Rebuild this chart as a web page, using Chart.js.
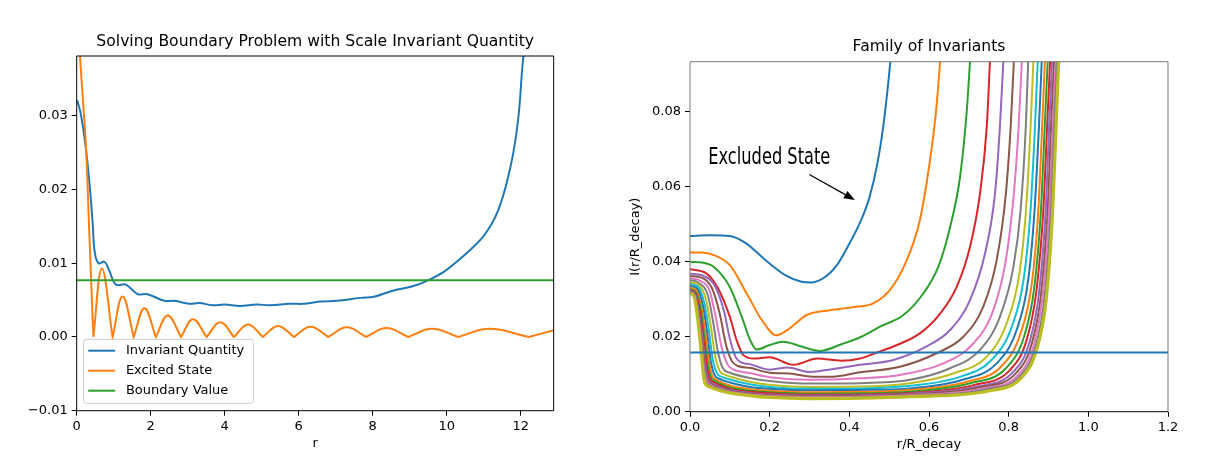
<!DOCTYPE html>
<html>
<head>
<meta charset="utf-8">
<script src="https://cdn.jsdelivr.net/npm/chart.js@4.4.1/dist/chart.umd.min.js"></script>
<style>
  body { margin: 0; background: #fff; }
  #wrap { position: relative; width: 1229px; height: 461px; }
  canvas { position: absolute; top: 0; }
  #left { left: 0; }
  #right { left: 614px; }
</style>
</head>
<body>
<div id="wrap">
  <canvas id="left" width="614" height="461"></canvas>
  <canvas id="right" width="615" height="461"></canvas>
</div>
<script>
const tab10 = ['#1f77b4', '#ff7f0e', '#2ca02c', '#d62728', '#9467bd',
               '#8c564b', '#e377c2', '#7f7f7f', '#bcbd22', '#17becf'];

// ---- left panel: r against quantity ----
const invariantQuantity = [
  [0, 0.0321], [0.03, 0.0318], [0.12, 0.0300], [0.25, 0.0255], [0.36, 0.0200], [0.43, 0.0155],
  [0.49, 0.0114], [0.59, 0.0100], [0.75, 0.0102], [0.88, 0.0090], [1.06, 0.0071], [1.33, 0.0071],
  [1.65, 0.0058], [1.91, 0.0058], [2.37, 0.0049], [2.64, 0.0049], [3.04, 0.0045], [3.31, 0.0046],
  [3.67, 0.0043], [4.0, 0.0044], [4.41, 0.0042], [4.86, 0.0044], [5.22, 0.0043], [5.76, 0.0045],
  [6.12, 0.0045], [6.58, 0.0048], [7.03, 0.0049], [7.66, 0.0053], [8.06, 0.0055], [8.56, 0.0063],
  [9.1, 0.0069], [9.5, 0.0077], [9.91, 0.0088], [10.27, 0.0102], [10.63, 0.0118], [10.95, 0.0134],
  [11.2, 0.0152], [11.4, 0.0173], [11.6, 0.0205], [11.8, 0.0250], [11.94, 0.0300], [12.04, 0.0364],
  [12.08, 0.0385]
];
// |psi| of the excited state, zeros doubled so the line keeps its cusps
const excitedState = [
  [0.05, 0.0435], [0.09, 0.0381], [0.17, 0.0320], [0.25, 0.0259], [0.34, 0.0142], [0.45, 0], [0.45, 0],
  [0.68, 0.0093], [0.97, 0], [0.97, 0],
  [1.24, 0.0055], [1.54, 0], [1.54, 0],
  [1.83, 0.0039], [2.14, 0], [2.14, 0],
  [2.46, 0.0029], [2.82, 0], [2.82, 0],
  [3.14, 0.0024], [3.51, 0], [3.51, 0],
  [3.88, 0.0020], [4.25, 0], [4.25, 0],
  [4.63, 0.0017], [5.03, 0], [5.03, 0],
  [5.44, 0.0015], [5.87, 0], [5.87, 0],
  [6.32, 0.0014], [6.80, 0], [6.80, 0],
  [7.30, 0.0013], [7.82, 0], [7.82, 0],
  [8.37, 0.0012], [8.96, 0], [8.96, 0],
  [9.60, 0.0011], [10.31, 0], [10.31, 0],
  [11.15, 0.0011], [12.22, 0], [12.22, 0],
  [12.89, 0.0009]
];
const boundaryValue = 0.0077;
const leftXRange = [0, 12.89];
const leftYRange = [-0.01, 0.0381];
const leftXTicks = [0, 2, 4, 6, 8, 10, 12];
const leftYTicks = [-0.01, 0, 0.01, 0.02, 0.03];

// ---- right panel: family of invariants, I(r/R_decay) ----
const inv01 = [[0,0.0469],[0.05,0.0471],[0.1,0.0469],[0.14,0.0450],[0.19,0.0404],[0.24,0.0364],[0.28,0.0347],[0.305,0.0345],[0.34,0.0360],[0.372,0.0396],[0.40,0.0448],[0.427,0.0505],[0.45,0.0570],[0.47,0.0660],[0.485,0.0760],[0.497,0.0870],[0.503,0.0935]];
const inv02 = [[0,0.0425],[0.03,0.0425],[0.06,0.0418],[0.1,0.0391],[0.142,0.0316],[0.18,0.0245],[0.217,0.0204],[0.25,0.0222],[0.293,0.0258],[0.351,0.0271],[0.418,0.0280],[0.46,0.0289],[0.502,0.0325],[0.544,0.0404],[0.577,0.0511],[0.6025,0.0671],[0.618,0.0805],[0.628,0.0935]];
const inv03 = [[0,0.0400],[0.03,0.0398],[0.059,0.0387],[0.1,0.0333],[0.13,0.0253],[0.151,0.0191],[0.167,0.0166],[0.2,0.0178],[0.234,0.0187],[0.28,0.0174],[0.326,0.0162],[0.38,0.0180],[0.43,0.0200],[0.477,0.0227],[0.536,0.0258],[0.586,0.0316],[0.6235,0.0387],[0.653,0.0493],[0.678,0.0627],[0.695,0.0805],[0.703,0.0935]];
const inv04 = [[0,0.0380],[0.04,0.0370],[0.07,0.0330],[0.1,0.0253],[0.117,0.0191],[0.134,0.0151],[0.16,0.0142],[0.2,0.0145],[0.26,0.0125],[0.32,0.0142],[0.38,0.0136],[0.427,0.0142],[0.464,0.0156],[0.5105,0.0174],[0.577,0.0209],[0.628,0.0262],[0.6695,0.0333],[0.703,0.0440],[0.728,0.0582],[0.745,0.0760],[0.753,0.0935]];
const inv05 = [[0,0.0368],[0.03,0.0364],[0.06,0.0340],[0.085,0.0270],[0.1,0.0195],[0.115,0.0145],[0.13,0.0131],[0.15,0.0127],[0.2,0.0112],[0.245,0.0118],[0.3,0.0106],[0.36,0.0114],[0.427,0.0125],[0.5105,0.0138],[0.594,0.0174],[0.653,0.0218],[0.703,0.0298],[0.7406,0.0422],[0.7657,0.0582],[0.778,0.0760],[0.7866,0.0935]];
const inv06 = [[0,0.0362],[0.03,0.0357],[0.055,0.0330],[0.075,0.0260],[0.09,0.0180],[0.105,0.0135],[0.12,0.0122],[0.15,0.0117],[0.2,0.0104],[0.25,0.0102],[0.3,0.0094],[0.35,0.0093],[0.427,0.0105],[0.527,0.0120],[0.619,0.0156],[0.686,0.0200],[0.736,0.0280],[0.770,0.0405],[0.793,0.0582],[0.805,0.0760],[0.813,0.0935]];
const inv07 = [[0,0.0356],[0.025,0.0350],[0.05,0.0320],[0.065,0.0250],[0.08,0.0170],[0.095,0.0125],[0.11,0.0112],[0.15,0.0103],[0.2,0.0092],[0.3,0.0085],[0.427,0.0089],[0.527,0.0098],[0.636,0.0129],[0.711,0.0182],[0.7615,0.0271],[0.793,0.0405],[0.813,0.0582],[0.825,0.0760],[0.833,0.0935]];
const inv08 = [[0,0.0351],[0.02,0.0345],[0.045,0.0310],[0.058,0.0240],[0.07,0.0160],[0.083,0.0115],[0.1,0.0104],[0.15,0.0090],[0.2,0.0082],[0.3,0.0075],[0.427,0.0076],[0.552,0.0085],[0.653,0.0116],[0.728,0.0165],[0.778,0.0253],[0.812,0.0387],[0.830,0.0538],[0.843,0.0760],[0.849,0.0935]];
const inv09 = [[0,0.0345],[0.02,0.0340],[0.04,0.0300],[0.052,0.0230],[0.063,0.0150],[0.075,0.0108],[0.088,0.0099],[0.1,0.0094],[0.15,0.0080],[0.2,0.0072],[0.3,0.0066],[0.427,0.0067],[0.552,0.0076],[0.661,0.0102],[0.745,0.0147],[0.795,0.0236],[0.827,0.0369],[0.8435,0.0538],[0.855,0.0760],[0.862,0.0935]];
const inv10 = [[0,0.0340],[0.018,0.0335],[0.036,0.0290],[0.047,0.0220],[0.057,0.0140],[0.068,0.0102],[0.08,0.0093],[0.1,0.0086],[0.15,0.0073],[0.2,0.0066],[0.3,0.0061],[0.427,0.0062],[0.552,0.0069],[0.678,0.0093],[0.757,0.0138],[0.808,0.0227],[0.8385,0.0360],[0.855,0.0538],[0.866,0.0760],[0.873,0.0935]];
const inv11 = [[0,0.0335],[0.016,0.0330],[0.033,0.0280],[0.043,0.0210],[0.052,0.0135],[0.062,0.0097],[0.073,0.0088],[0.1,0.0078],[0.15,0.0066],[0.2,0.0061],[0.3,0.0057],[0.427,0.0058],[0.552,0.0062],[0.686,0.0086],[0.770,0.0129],[0.820,0.0218],[0.849,0.0351],[0.865,0.0538],[0.876,0.0760],[0.883,0.0935]];
const inv12 = [[0,0.0330],[0.015,0.0325],[0.03,0.0270],[0.04,0.0200],[0.048,0.0130],[0.057,0.0093],[0.067,0.0084],[0.1,0.0070],[0.15,0.0060],[0.2,0.0056],[0.3,0.0052],[0.427,0.0053],[0.552,0.0058],[0.695,0.0080],[0.7825,0.0122],[0.830,0.0209],[0.858,0.0342],[0.8745,0.0538],[0.884,0.0760],[0.891,0.0935]];
const inv13 = [[0,0.0327],[0.014,0.0320],[0.028,0.0265],[0.037,0.0190],[0.045,0.0125],[0.053,0.0090],[0.063,0.0081],[0.1,0.0065],[0.15,0.0056],[0.2,0.0052],[0.3,0.0048],[0.427,0.0049],[0.552,0.0053],[0.703,0.0076],[0.793,0.0116],[0.8385,0.0200],[0.8645,0.0333],[0.881,0.0538],[0.8905,0.0760],[0.898,0.0935]];
const inv14 = [[0,0.0324],[0.013,0.0318],[0.026,0.0260],[0.035,0.0185],[0.042,0.0120],[0.05,0.0087],[0.06,0.0078],[0.1,0.0061],[0.15,0.0053],[0.2,0.0049],[0.3,0.0045],[0.427,0.0046],[0.552,0.0050],[0.711,0.0071],[0.803,0.0111],[0.845,0.0191],[0.870,0.0325],[0.887,0.0538],[0.8965,0.0760],[0.904,0.0935]];
const inv15 = [[0,0.0322],[0.012,0.0316],[0.024,0.0255],[0.033,0.0180],[0.04,0.0115],[0.047,0.0084],[0.057,0.0075],[0.1,0.0058],[0.15,0.0050],[0.2,0.0046],[0.3,0.0043],[0.427,0.0044],[0.552,0.0048],[0.720,0.0067],[0.812,0.0107],[0.852,0.0184],[0.876,0.0316],[0.893,0.0538],[0.9015,0.0760],[0.909,0.0935]];
const inv16 = [[0,0.0320],[0.011,0.0314],[0.022,0.0250],[0.031,0.0175],[0.038,0.0112],[0.045,0.0082],[0.055,0.0073],[0.1,0.0056],[0.15,0.0048],[0.2,0.0044],[0.3,0.0041],[0.427,0.0042],[0.552,0.0046],[0.728,0.0065],[0.8185,0.0103],[0.857,0.0178],[0.881,0.0311],[0.898,0.0538],[0.9065,0.0760],[0.914,0.0935]];
const inv17 = [[0,0.0318],[0.01,0.0312],[0.021,0.0248],[0.03,0.0170],[0.036,0.0110],[0.043,0.0080],[0.053,0.0071],[0.1,0.0054],[0.15,0.0046],[0.2,0.0042],[0.3,0.0039],[0.427,0.0040],[0.552,0.0044],[0.736,0.0062],[0.824,0.0098],[0.862,0.0174],[0.885,0.0307],[0.902,0.0538],[0.911,0.0760],[0.918,0.0935]];
const inv18 = [[0,0.0317],[0.01,0.0310],[0.02,0.0245],[0.029,0.0165],[0.035,0.0107],[0.04,0.0078],[0.051,0.0069],[0.1,0.0052],[0.15,0.0044],[0.2,0.0040],[0.3,0.0037],[0.427,0.0038],[0.552,0.0042],[0.745,0.0060],[0.8285,0.0095],[0.866,0.0169],[0.8896,0.0302],[0.906,0.0538],[0.9145,0.0760],[0.921,0.0935]];
const inv19 = [[0,0.0316],[0.01,0.0308],[0.02,0.0242],[0.028,0.0160],[0.033,0.0104],[0.037,0.0078],[0.048,0.0067],[0.079,0.0055],[0.1,0.0050],[0.15,0.0043],[0.2,0.0038],[0.3,0.0035],[0.427,0.0036],[0.552,0.0040],[0.753,0.0056],[0.833,0.0092],[0.870,0.0165],[0.894,0.0298],[0.9105,0.0538],[0.919,0.0760],[0.9255,0.0935]];
const family = [inv01, inv02, inv03, inv04, inv05, inv06, inv07, inv08, inv09, inv10,
                inv11, inv12, inv13, inv14, inv15, inv16, inv17, inv18, inv19];
const cutoffLevel = 0.0158;
const rightXRange = [0, 1.2];
const rightYRange = [0, 0.0934];
const rightXTicks = [0, 0.2, 0.4, 0.6, 0.8, 1.0, 1.2];
const rightYTicks = [0, 0.02, 0.04, 0.06, 0.08];

// annotation (data coordinates)
const noteText = 'Excluded State';
const noteAt = [0.046, 0.066];
const arrowFrom = [0.2995, 0.0633];
const arrowTo = [0.414, 0.0565];

Chart.defaults.font.family = "'DejaVu Sans', sans-serif";
Chart.defaults.font.size = 13;
Chart.defaults.color = '#000';

const toXY = pts => pts.map(([x, y]) => ({ x, y }));
const fmt = d => v => v.toFixed(d).replace('-', '\u2212');

function axis(range, list, digits, fitSize, horizontal) {
  return {
    type: 'linear',
    min: range[0],
    max: range[1],
    afterBuildTicks: s => { s.ticks = list.map(v => ({ value: v })); },
    afterFit: s => { if (horizontal) s.height = fitSize; else s.width = fitSize; },
    grid: { drawOnChartArea: false, drawTicks: true, tickLength: 5, color: '#000', lineWidth: 1 },
    border: { display: false },
    ticks: { padding: horizontal ? 3 : 4, color: '#000', callback: fmt(digits), maxRotation: 0, autoSkip: false }
  };
}

// spines over the data, like matplotlib
const frame = {
  id: 'frame',
  afterDatasetsDraw(chart, args, opts) {
    const { ctx, chartArea: a } = chart;
    const side = (c, x1, y1, x2, y2) => {
      ctx.strokeStyle = c;
      ctx.beginPath(); ctx.moveTo(x1, y1); ctx.lineTo(x2, y2); ctx.stroke();
    };
    ctx.save();
    ctx.lineWidth = 1;
    side(opts.edge, a.left, a.top, a.right, a.top);
    side(opts.edge, a.right, a.top, a.right, a.bottom);
    side(opts.edge, a.left, a.top, a.left, a.bottom);
    side('#000', a.left, a.bottom, a.right, a.bottom);
    ctx.restore();
  }
};

const decorations = {
  id: 'decorations',
  afterDraw(chart, args, opts) {
    const { ctx, chartArea: a } = chart;
    const cx = (a.left + a.right) / 2;
    ctx.save();
    ctx.fillStyle = '#000';
    ctx.textAlign = 'center';
    ctx.textBaseline = 'middle';
    ctx.font = "15.6px 'DejaVu Sans'";
    ctx.fillText(opts.title, cx, a.top - 14.5);
    ctx.font = "13px 'DejaVu Sans'";
    ctx.fillText(opts.xTitle, cx, a.bottom + 32.8);
    if (opts.yTitle) {
      ctx.save();
      ctx.translate(a.left - 54.6, (a.top + a.bottom) / 2);
      ctx.rotate(-Math.PI / 2);
      ctx.fillText(opts.yTitle, 0, 0);
      ctx.restore();
    }

    if (opts.legend) {
      const bx = a.left + 6.9, by = a.bottom - 71.4, bw = 169.8, bh = 64;
      ctx.fillStyle = 'rgba(255,255,255,0.8)';
      ctx.strokeStyle = '#cccccc';
      ctx.lineWidth = 1;
      ctx.beginPath();
      ctx.roundRect(bx, by, bw, bh, 3);
      ctx.fill();
      ctx.stroke();
      ctx.textAlign = 'left';
      chart.data.datasets.forEach((ds, i) => {
        const y = by + 11.4 + i * 20;
        ctx.strokeStyle = ds.borderColor;
        ctx.lineWidth = 2;
        ctx.beginPath(); ctx.moveTo(bx + 4.6, y); ctx.lineTo(bx + 31.5, y); ctx.stroke();
        ctx.fillStyle = '#000';
        ctx.fillText(ds.label, bx + 42.3, y);
      });
    }

    if (opts.note) {
      const sx = chart.scales.x, sy = chart.scales.y;
      const px = p => [sx.getPixelForValue(p[0]), sy.getPixelForValue(p[1])];
      const [tx, ty] = px(noteAt);
      ctx.font = "23px 'Liberation Sans Narrow', 'DejaVu Sans Condensed', sans-serif";
      ctx.textAlign = 'left';
      ctx.textBaseline = 'alphabetic';
      const w = ctx.measureText(noteText).width;
      ctx.save();
      ctx.translate(tx, ty);
      ctx.scale(122 / w, 1);
      ctx.fillText(noteText, 0, 0);
      ctx.restore();

      const [x1, y1] = px(arrowFrom), [x2, y2] = px(arrowTo);
      const ang = Math.atan2(y2 - y1, x2 - x1);
      const hl = 11, hw = 4.2;
      const bxh = x2 - hl * Math.cos(ang), byh = y2 - hl * Math.sin(ang);
      ctx.strokeStyle = '#000';
      ctx.lineWidth = 1.2;
      ctx.beginPath(); ctx.moveTo(x1, y1); ctx.lineTo(bxh, byh); ctx.stroke();
      ctx.beginPath();
      ctx.moveTo(x2, y2);
      ctx.lineTo(bxh + hw * Math.sin(ang), byh - hw * Math.cos(ang));
      ctx.lineTo(bxh - hw * Math.sin(ang), byh + hw * Math.cos(ang));
      ctx.closePath();
      ctx.fillStyle = '#000';
      ctx.fill();
    }
    ctx.restore();
  }
};

const line = (label, pts, color, extra) => Object.assign({
  label, data: toXY(pts), borderColor: color, backgroundColor: color,
  borderWidth: 2, pointRadius: 0, fill: false, cubicInterpolationMode: 'monotone'
}, extra || {});

new Chart(document.getElementById('left'), {
  type: 'line',
  data: {
    datasets: [
      line('Invariant Quantity', invariantQuantity, tab10[0], { order: 0, cubicInterpolationMode: 'default', tension: 0.4 }),
      line('Excited State', excitedState, tab10[1], { order: -1, cubicInterpolationMode: 'default', tension: 0.4 }),
      line('Boundary Value', [[leftXRange[0], boundaryValue], [leftXRange[1], boundaryValue]], tab10[2], { order: -2 })
    ]
  },
  options: {
    responsive: false,
    animation: false,
    layout: { padding: { top: 56, right: 60.3, left: 0, bottom: 0 } },
    scales: {
      x: axis(leftXRange, leftXTicks, 0, 50.3, true),
      y: axis(leftYRange, leftYTicks, 2, 76.7, false)
    },
    plugins: {
      legend: { display: false },
      tooltip: { enabled: false },
      frame: { edge: '#000' },
      decorations: { title: 'Solving Boundary Problem with Scale Invariant Quantity', xTitle: 'r', legend: true }
    }
  },
  plugins: [frame, decorations]
});

const rightSets = family.map((pts, i) =>
  line('I' + (i + 1), pts, tab10[i % 10], { order: -i, borderWidth: i === family.length - 1 ? 3.2 : 2 }));
rightSets.push(line('cutoff', [[rightXRange[0], cutoffLevel], [rightXRange[1], cutoffLevel]], tab10[0], { order: -100 }));

new Chart(document.getElementById('right'), {
  type: 'line',
  data: { datasets: rightSets },
  options: {
    responsive: false,
    animation: false,
    layout: { padding: { top: 61.7, right: 61, left: 0, bottom: 0 } },
    scales: {
      x: axis(rightXRange, rightXTicks, 1, 49.3, true),
      y: axis(rightYRange, rightYTicks, 2, 76, false)
    },
    plugins: {
      legend: { display: false },
      tooltip: { enabled: false },
      frame: { edge: '#777' },
      decorations: { title: 'Family of Invariants', xTitle: 'r/R_decay', yTitle: 'I(r/R_decay)', note: true }
    }
  },
  plugins: [frame, decorations]
});
</script>
</body>
</html>
